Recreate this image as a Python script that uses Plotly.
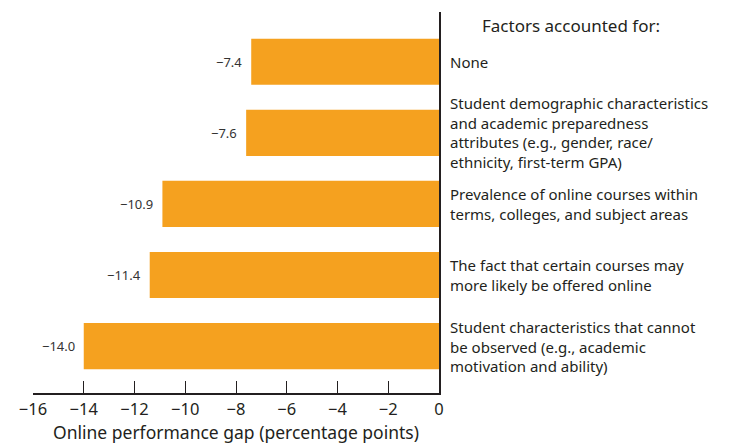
import plotly.graph_objects as go

# data
factors = [
    "None",
    "Student demographic characteristics<br>and academic preparedness<br>attributes (e.g., gender, race/<br>ethnicity, first-term GPA)",
    "Prevalence of online courses within<br>terms, colleges, and subject areas",
    "The fact that certain courses may<br>more likely be offered online",
    "Student characteristics that cannot<br>be observed (e.g., academic<br>motivation and ability)",
]
gap = [-7.4, -7.6, -10.9, -11.4, -14.0]
x_ticks = [-16, -14, -12, -10, -8, -6, -4, -2, 0]

INK = "#231f20"
ORANGE = "#f5a11f"
FONT = "Noto Sans"

positions = list(range(len(factors)))
labels = [f"{v:.1f}".replace("-", "\u2212") for v in gap]

fig = go.Figure()
fig.add_trace(go.Bar(
    x=gap,
    y=positions,
    orientation="h",
    marker=dict(color=ORANGE, line=dict(width=0)),
    width=0.65,
    hoverinfo="skip",
))

# value labels just left of each bar
for pos, val, lab in zip(positions, gap, labels):
    fig.add_annotation(
        x=val, xref="x", xanchor="right", xshift=-7,
        y=pos, yref="y", yanchor="middle",
        text=lab, showarrow=False,
        font=dict(family=FONT, size=13, color="#333333"),
    )

# factor labels to the right of the zero line
for pos, txt in zip(positions, factors):
    fig.add_annotation(
        x=1, xref="paper", xshift=9, xanchor="left",
        y=pos, yref="y", yanchor="middle",
        text=txt, align="left", showarrow=False,
        font=dict(family=FONT, size=15, color=INK),
    )

fig.add_annotation(
    x=1, xref="paper", xshift=41, xanchor="left",
    y=1, yref="paper", yanchor="top", yshift=0,
    text="Factors accounted for:", showarrow=False,
    font=dict(family=FONT, size=17, color=INK),
)

# page body adds an 8px offset, so the figure is 8px smaller each way
fig.update_layout(
    width=722, height=437,
    margin=dict(l=25, r=291, t=4, b=52, autoexpand=False),
    paper_bgcolor="white", plot_bgcolor="white",
    showlegend=False,
    font=dict(family=FONT, color=INK),
    xaxis=dict(
        range=[-16, 0], tickvals=x_ticks,
        showgrid=False, zeroline=False, automargin=False,
        showline=True, linecolor=INK, linewidth=2,
        ticks="inside", ticklen=12, tickwidth=1.2, tickcolor=INK,
        tickfont=dict(size=16.5, color=INK),
        title=dict(text="Online performance gap (percentage points)",
                   font=dict(size=17.5, color=INK), standoff=2),
    ),
    yaxis=dict(
        range=[4.66, -0.70], side="right", automargin=False,
        showgrid=False, zeroline=False, showticklabels=False,
        showline=True, linecolor=INK, linewidth=2, ticks="",
    ),
)

fig.write_html("out.html")
